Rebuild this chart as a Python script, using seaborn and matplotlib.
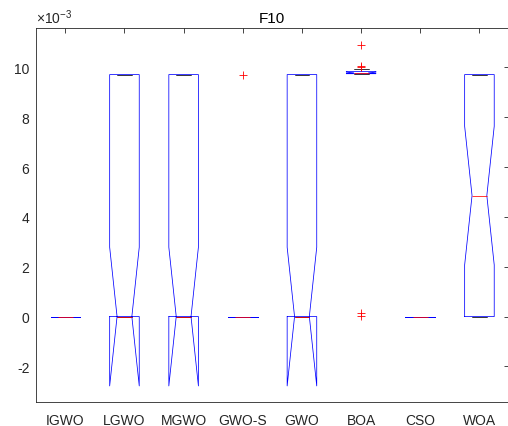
import numpy as np
import pandas as pd
import matplotlib
matplotlib.use("Agg")
import matplotlib.pyplot as plt
from matplotlib.colors import to_rgba
from matplotlib.ticker import FuncFormatter
import seaborn as sns

# Best fitness on benchmark F10 over 30 independent runs per algorithm
algorithms = ["IGWO", "LGWO", "MGWO", "GWO-S", "GWO", "BOA", "CSO", "WOA"]

igwo = [0.0] * 30
lgwo = [0.0] * 20 + [9.71e-3] * 10
mgwo = [0.0] * 20 + [9.71e-3] * 10
gwo_s = [0.0] * 29 + [9.71e-3]
gwo = [0.0] * 20 + [9.71e-3] * 10
boa = [0.04e-3, 0.16e-3, 9.720e-3, 9.730e-3, 9.735e-3, 9.740e-3, 9.742e-3,
       9.745e-3, 9.748e-3, 9.752e-3, 9.758e-3, 9.762e-3, 9.768e-3, 9.774e-3,
       9.778e-3, 9.782e-3, 9.790e-3, 9.800e-3, 9.810e-3, 9.820e-3, 9.828e-3,
       9.834e-3, 9.840e-3, 9.850e-3, 9.870e-3, 9.895e-3, 9.920e-3, 10.03e-3,
       10.05e-3, 10.90e-3]
cso = [0.0] * 30
woa = [0.0] * 15 + [9.71e-3] * 15

runs = [igwo, lgwo, mgwo, gwo_s, gwo, boa, cso, woa]
df = pd.DataFrame({
    "algorithm": np.repeat(algorithms, [len(r) for r in runs]),
    "value": np.concatenate(runs),
})

sns.set_style("white")
plt.rcParams["font.family"] = ["Liberation Sans", "DejaVu Sans"]
plt.rcParams["mathtext.fontset"] = "custom"
plt.rcParams["mathtext.rm"] = "Liberation Sans"
plt.rcParams["axes.unicode_minus"] = False

axis_gray = "#262626"
box_blue = "#0000ff"
median_red = "#ff0000"

fig = plt.figure(figsize=(5.08, 4.27), dpi=100)
ax = fig.add_axes([0.0703, 0.0555, 0.9317, 0.8766])

sns.boxplot(
    data=df, x="algorithm", y="value", order=algorithms, ax=ax,
    width=0.5, fill=False, whis=1.5, linewidth=0.55,
    shownotches=True,
    boxprops=dict(color=box_blue, linewidth=0.55),
    medianprops=dict(color=median_red, linewidth=0.55),
    whiskerprops=dict(color="black", linestyle="--", linewidth=0.55),
    capprops=dict(color="black", linewidth=0.55),
    flierprops=dict(marker="+", markeredgecolor=median_red, markersize=6,
                    markeredgewidth=0.6),
)

# Stack the parts: whiskers/caps under the box, median and outliers on top
for line in ax.lines:
    if line.get_marker() == "+":
        line.set_markeredgecolor(median_red)
        line.set_zorder(5)
        continue
    rgba = to_rgba(line.get_color())
    if rgba[:3] == (0.0, 0.0, 0.0):
        line.set_zorder(1.5)
    elif rgba[:3] == (0.0, 0.0, 1.0):
        line.set_zorder(3)
    elif rgba[:3] == (1.0, 0.0, 0.0):
        line.set_zorder(4)

ax.set_xlim(-0.5, 7.5)
ax.set_ylim(-3.44e-3, 11.58e-3)
ax.set_yticks(np.arange(-2e-3, 10.5e-3, 2e-3))
ax.yaxis.set_major_formatter(FuncFormatter(lambda v, _: f"{v * 1e3:.0f}"))
ax.text(0.0, 1.005, r"$\times\mathregular{10^{-3}}$", transform=ax.transAxes,
        ha="left", va="bottom", fontsize=10, color=axis_gray)

ax.set_xlabel("")
ax.set_ylabel("")
ax.set_title("F10", fontsize=11, color="black", pad=4)

for side in ["left", "right", "top", "bottom"]:
    ax.spines[side].set_visible(True)
    ax.spines[side].set_color(axis_gray)
    ax.spines[side].set_linewidth(0.6)

ax.tick_params(axis="both", which="major", direction="in", length=3.5,
               width=0.6, color=axis_gray, labelcolor=axis_gray,
               labelsize=10, top=True, right=True)
ax.tick_params(axis="x", pad=8)
ax.tick_params(axis="y", pad=4.5)

fig.savefig("out.png", dpi=100)
